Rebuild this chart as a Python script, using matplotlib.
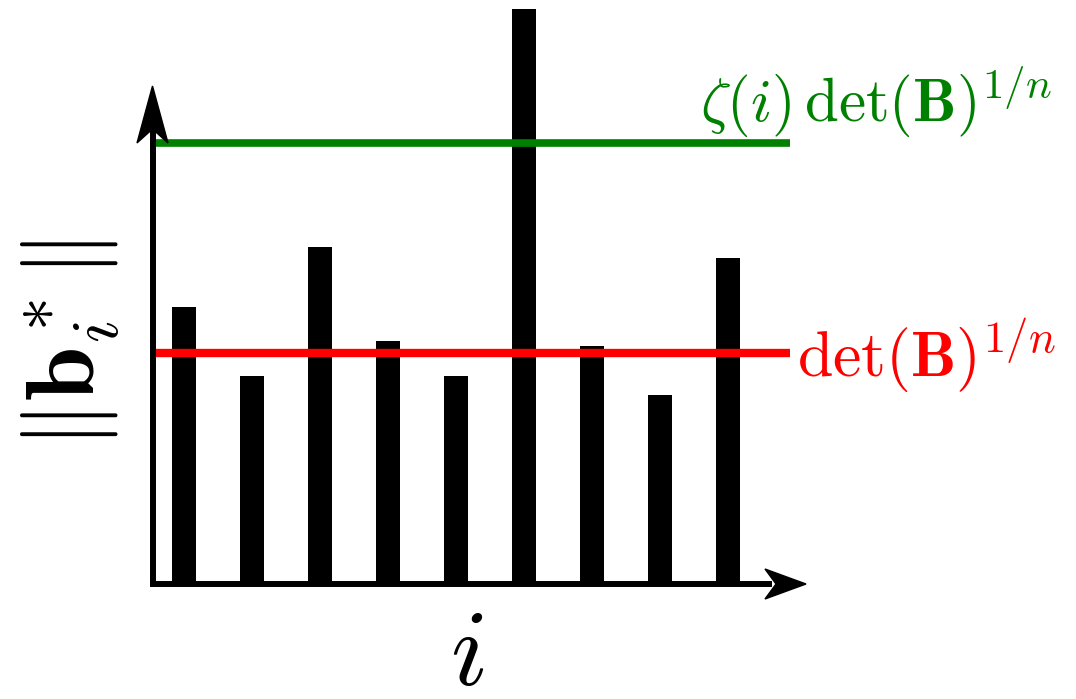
import matplotlib
matplotlib.use("Agg")
import matplotlib.pyplot as plt
from matplotlib.patches import Polygon

plt.rcParams['mathtext.fontset'] = 'cm'

# Gram-Schmidt norms (in units of det(B)^{1/n})
gs_norms = [1.20, 0.90, 1.46, 1.05, 0.90, 2.49, 1.03, 0.82, 1.41]
det_level = 1.0
zeta_level = 1.91
det_label = r'$\det(\mathbf{B})^{1/n}$'
zeta_label = r'$\zeta(i)\,\det(\mathbf{B})^{1/n}$'
x_label = r'$i$'
y_label = r'$\Vert\mathbf{b}_i^*\Vert$'

W, H = 1076, 699
fig = plt.figure(figsize=(W / 100, H / 100), dpi=100)

# data axes fill the figure; limits chosen so bars sit on the drawn axis
ax = fig.add_axes([0, 0, 1, 1])
ax.set_xlim(-184 / 68, (W - 184) / 68)
ax.set_ylim(-(H - 584) / 231, 584 / 231)
ax.axis('off')

idx = list(range(len(gs_norms)))
ax.bar(idx, gs_norms, width=0.353, color='black', zorder=2)
x_end = (790 - 184) / 68
x_start = (152 - 184) / 68
ax.hlines(det_level, x_start, x_end, color='#ff0000', lw=6, zorder=3)
ax.hlines(zeta_level, x_start, x_end, color='#008000', lw=5.5, zorder=3)

# overlay in pixel space for the arrowed axes and labels
ov = fig.add_axes([0, 0, 1, 1], zorder=5)
ov.set_xlim(0, W)
ov.set_ylim(H, 0)
ov.axis('off')
ov.patch.set_alpha(0)

ov.plot([152.5, 152.5], [587, 128], color='black', lw=4.3, solid_capstyle='butt')
ov.plot([149.5, 772], [584, 584], color='black', lw=4.3, solid_capstyle='butt')
ov.add_patch(Polygon([(152.5, 86), (168, 143), (152.5, 129), (137, 143)],
                     closed=True, color='black'))
ov.add_patch(Polygon([(806, 584), (765, 599), (776, 584), (765, 569)],
                     closed=True, color='black'))

ov.text(797, 356, det_label, color='#ff0000', fontsize=46, ha='left', va='center')
ov.text(700, 102, zeta_label, color='#008000', fontsize=44, ha='left', va='center')
ov.text(467, 655, x_label, fontsize=78, ha='center', va='center')
ov.text(71, 345, y_label, fontsize=70, ha='center', va='center', rotation=90)

fig.savefig('out.png', dpi=100)
